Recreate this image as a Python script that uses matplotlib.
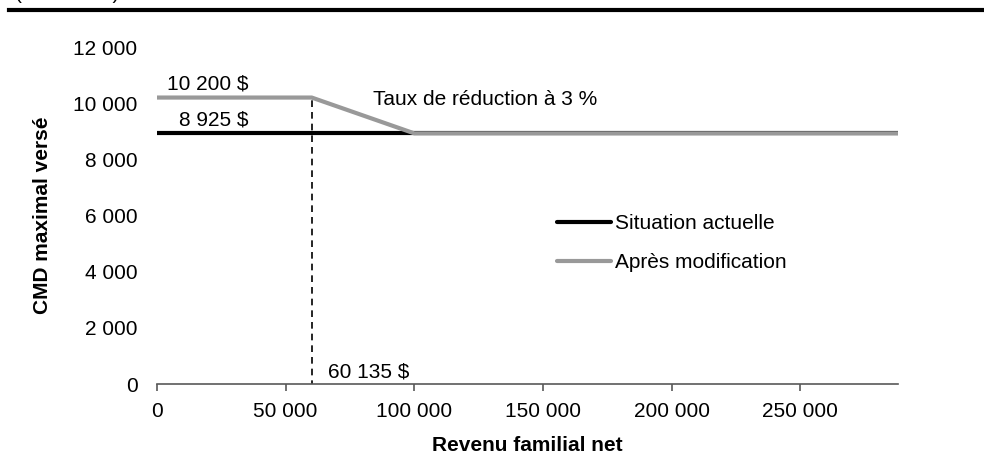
import matplotlib
matplotlib.use("Agg")
import matplotlib.pyplot as plt
from matplotlib.lines import Line2D
from matplotlib.ticker import FuncFormatter

plt.rcParams['font.family'] = ['Liberation Sans', 'DejaVu Sans']

# données
revenu_actuel = [0, 288000]
cmd_actuel = [8925, 8925]
revenu_modif = [0, 60135, 100000, 288000]
cmd_modif = [10200, 10200, 8925, 8925]
seuil = 60135
x_ticks = [0, 50000, 100000, 150000, 200000, 250000]
y_ticks = [0, 2000, 4000, 6000, 8000, 10000, 12000]

fs = 15
gris = '#999999'

def sep(v, pos=None):
    return f"{int(v):,}".replace(",", " ")

fig = plt.figure(figsize=(9.84, 4.61), dpi=100)
ax = fig.add_axes([157/984, 1 - 384/461, 741/984, 337/461])

ax.plot(revenu_actuel, cmd_actuel, color='black', lw=3, solid_capstyle='round',
        label='Situation actuelle')
ax.plot(revenu_modif, cmd_modif, color=gris, lw=3, solid_capstyle='round',
        solid_joinstyle='round', label='Après modification')
ax.plot([seuil, seuil], [-100, cmd_modif[1]], color='black', lw=1.2,
        ls=(0, (4, 3)))

ax.set_xlim(0, 288000)
ax.set_ylim(0, 12000)
ax.set_xticks(x_ticks)
ax.set_yticks(y_ticks)
ax.xaxis.set_major_formatter(FuncFormatter(sep))
ax.yaxis.set_major_formatter(FuncFormatter(sep))

for s in ['top', 'right', 'left']:
    ax.spines[s].set_visible(False)
ax.spines['bottom'].set_color('#595959')
ax.spines['bottom'].set_linewidth(1.2)
ax.tick_params(axis='x', length=5, width=1.2, color='#595959', pad=8,
               labelsize=fs)
ax.tick_params(axis='y', length=0, pad=14, labelsize=fs)

ax.set_ylabel('CMD maximal versé', fontsize=fs, fontweight='bold')
ax.yaxis.set_label_coords(-0.142, 0.5)
ax.set_xlabel('Revenu familial net', fontsize=fs, fontweight='bold')
ax.xaxis.set_label_coords(0.5, -0.155)

ax.text(35400, 10470, '10 200 $', ha='right', va='baseline', fontsize=fs)
ax.text(35400, 9190, '8 925 $', ha='right', va='baseline', fontsize=fs)
ax.text(84000, 9920, 'Taux de réduction à 3 %', ha='left', va='baseline',
        fontsize=fs)
ax.text(66500, 214, '60 135 $', ha='left', va='baseline', fontsize=fs)

handles = [Line2D([], [], color='black', lw=3, solid_capstyle='round'),
           Line2D([], [], color=gris, lw=3, solid_capstyle='round')]
ax.legend(handles, ['Situation actuelle', 'Après modification'],
          loc='upper left', bbox_to_anchor=(0.54, 0.503), frameon=False,
          fontsize=fs, handlelength=2.6, handletextpad=0.2, labelspacing=0.95,
          borderpad=0, borderaxespad=0)

# barre et titre coupé en haut
fig.add_artist(Line2D([9/984, 1], [1 - 10/461, 1 - 10/461], color='black',
                      lw=3, transform=fig.transFigure))
fig.text(15/984, 1 + 1/461, '(en dollars)', ha='left', va='baseline',
         fontsize=fs)

fig.savefig('out.png', dpi=100)
